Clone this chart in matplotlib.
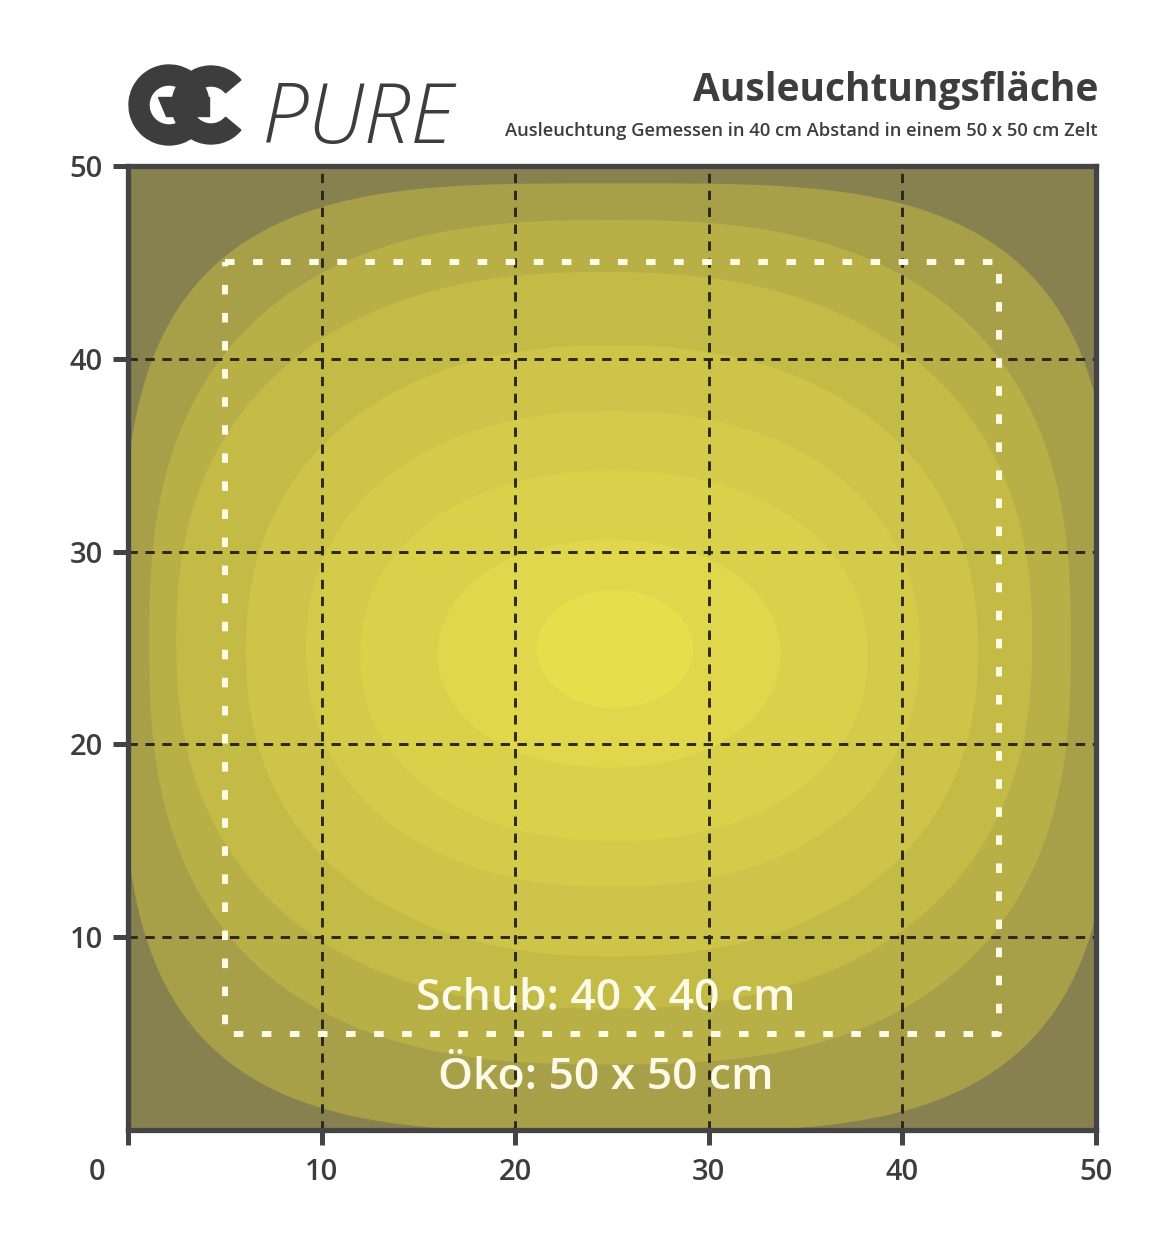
import numpy as np
import matplotlib
matplotlib.use("Agg")
import matplotlib.pyplot as plt
from matplotlib.patches import Wedge, Polygon

plt.rcParams["font.family"] = ["Open Sans", "DejaVu Sans"]

# illumination bands, outer -> inner (cm)
band_cx = [25.3, 24.9, 24.6, 25.0, 25.05, 25.1, 24.85, 25.15]
band_cy = [24.5, 25.3, 25.4, 24.85, 24.95, 24.6, 24.7, 24.95]
band_a = [25.6, 23.8, 22.1, 18.9, 15.85, 13.1, 8.85, 4.05]
band_b = [24.6, 21.9, 19.1, 15.85, 12.35, 9.6, 5.9, 3.05]
band_n = [3.5, 2.6, 2.35, 2.25, 2.2, 2.15, 2.1, 2.0]
band_colors = ["#a7a049", "#b8af47", "#c4bb47", "#cdc449",
               "#d4cb4a", "#dad14b", "#e0d74c", "#e7de4c"]
bg_color = "#878150"

ticks = [0, 10, 20, 30, 40, 50]
grid_pos = [10, 20, 30, 40]
schub = (5, 5, 45, 45)  # x0, y0, x1, y1

title = "Ausleuchtungsfläche"
subtitle = "Ausleuchtung Gemessen in 40 cm Abstand in einem 50 x 50 cm Zelt"
label_schub = "Schub: 40 x 40 cm"
label_oeko = "Öko: 50 x 50 cm"

ink = "#3d3d3d"
W, H = 1170, 1242
fig = plt.figure(figsize=(W / 100, H / 100), dpi=100)
fig.patch.set_facecolor("white")

ax = fig.add_axes([128 / W, 1 - 1130 / H, (1096 - 128) / W, (1130 - 166) / H])
ax.set_facecolor(bg_color)
ax.set_xlim(0, 50)
ax.set_ylim(0, 50)

t = np.linspace(0, 2 * np.pi, 720)
for cx, cy, a, b, n, c in zip(band_cx, band_cy, band_a, band_b, band_n, band_colors):
    ct, st = np.cos(t), np.sin(t)
    xs = cx + a * np.sign(ct) * np.abs(ct) ** (2 / n)
    ys = cy + b * np.sign(st) * np.abs(st) ** (2 / n)
    ax.fill(xs, ys, color=c, lw=0, zorder=1)

ax.text(24.7, 6.8, label_schub, color="#fdfbe8", fontsize=32, fontweight="semibold",
        ha="center", va="center", zorder=2)
ax.text(24.7, 2.7, label_oeko, color="#fdfbe8", fontsize=32, fontweight="semibold",
        ha="center", va="center", zorder=2)

for g in grid_pos:
    ax.axvline(g, color="#2a2818", lw=2.1, dashes=(3.2, 2.6), zorder=3)
    ax.axhline(g, color="#2a2818", lw=2.1, dashes=(3.2, 2.6), zorder=3)

x0, y0, x1, y1 = schub
ax.plot([x0, x1, x1, x0, x0], [y1, y1, y0, y0, y1], color="#fffbe4", lw=4.3,
        dashes=(1.6, 3.1), solid_capstyle="butt", dash_capstyle="butt", zorder=4)

for s in ax.spines.values():
    s.set_color("#444444")
    s.set_linewidth(3.8)
    s.set_zorder(5)

ax.set_xticks(ticks)
ax.set_xticklabels([""] + [str(v) for v in ticks[1:]])
ax.set_yticks(ticks[1:])
ax.set_yticklabels([str(v) for v in ticks[1:]])
ax.tick_params(axis="both", direction="out", length=11, width=3.6, color="#444444",
               labelcolor=ink, labelsize=21)
for lab in ax.get_xticklabels() + ax.get_yticklabels():
    lab.set_fontweight("semibold")
ax.tick_params(axis="x", pad=9)
ax.tick_params(axis="y", pad=7)
ax.text(-1.6, -2.2, "0", color=ink, fontsize=21, fontweight="semibold",
        ha="center", va="center", clip_on=False)

# header
fig.text(1098 / W, 1 - 90 / H, title, fontsize=28, fontweight="bold", color=ink,
         ha="right", va="center")
fig.text(1098 / W, 1 - 131 / H, subtitle, fontsize=13.2, fontweight="semibold",
         color=ink, ha="right", va="center")

# logo
lax = fig.add_axes([0, 0, 1, 1], zorder=-1)
lax.set_xlim(0, W)
lax.set_ylim(H, 0)
lax.axis("off")
lax.add_patch(Wedge((169, 105), 40, 52, 360, width=20, color=ink))
lax.add_patch(Polygon([(158, 97), (209, 97), (209, 116), (166, 116)], color=ink))
lax.add_patch(Wedge((211, 105), 39, 40, 320, width=20, color=ink))
lax.text(262, 143, "PURE", fontsize=60, fontweight="light", fontstyle="italic",
         color=ink, ha="left", va="baseline")

fig.savefig("out.png", dpi=100, facecolor="white")
